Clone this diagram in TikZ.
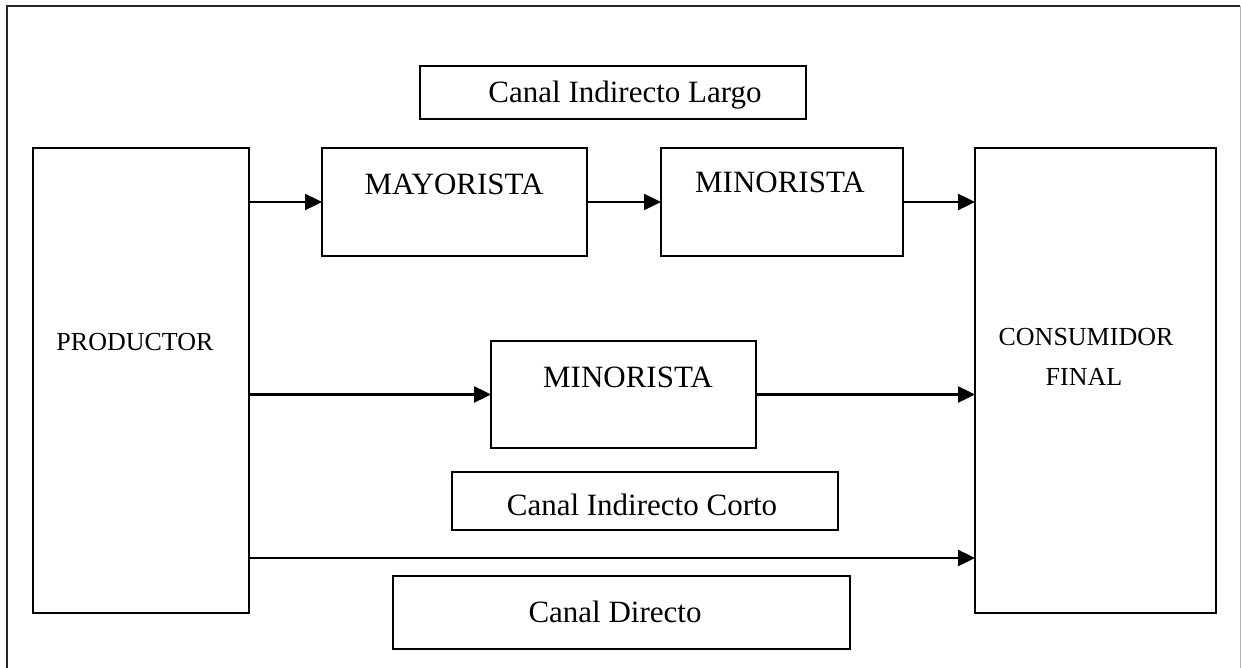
\documentclass[tikz,border=0pt]{standalone}
\usepackage{fontspec}
\setmainfont{Liberation Serif}
\usetikzlibrary{arrows.meta}
\tikzset{
  box/.style={draw=black, line width=2.4pt, fill=none, inner sep=0pt, outer sep=0pt},
  arr/.style={line width=2.4pt, -{Triangle[length=17pt,width=16pt]}},
  lbl/.style={anchor=base, inner sep=0pt, font=\fontsize{31}{37}\selectfont},
  lblsm/.style={anchor=base, inner sep=0pt, font=\fontsize{26}{31}\selectfont}
}
\begin{document}
\begin{tikzpicture}[x=1pt,y=-1pt]
\useasboundingbox (0,0) rectangle (1241,668);
\fill[white] (0,0) rectangle (1241,668);
% outer frame
\draw[line width=2.4pt, black!85] (7,668) -- (7,6) -- (1240,6);
\draw[line width=1pt, black!30] (1240,6) -- (1240,668);
% boxes
\node[box, minimum width=216pt, minimum height=465pt] (prod) at (141,380.5) {};
\node[box, minimum width=241pt, minimum height=465pt] (cons) at (1095.5,380.5) {};
\node[box, minimum width=386pt, minimum height=53pt] (largo) at (613,92.5) {};
\node[box, minimum width=265pt, minimum height=108pt] (may) at (454.5,202) {};
\node[box, minimum width=242pt, minimum height=108pt] (minA) at (782,202) {};
\node[box, minimum width=265pt, minimum height=107pt] (minB) at (623.5,394.5) {};
\node[box, minimum width=386pt, minimum height=58pt] (corto) at (645,501) {};
\node[box, minimum width=457pt, minimum height=73pt] (directo) at (621.5,612.5) {};
% texts
\node[lbl] (tlargo) at (625,103) {Canal Indirecto Largo};
\node[lbl] (tmay) at (454,195) {MAYORISTA};
\node[lbl] (tminA) at (780,193) {MINORISTA};
\node[lbl] (tminB) at (628,387) {MINORISTA};
\node[lbl] (tcorto) at (642,515) {Canal Indirecto Corto};
\node[lbl] (tdirecto) at (615,622) {Canal Directo};
\node[lblsm] (tprod) at (135,350) {PRODUCTOR};
\node[lblsm] (tcons) at (1086,345) {CONSUMIDOR};
\node[lblsm] (tfinal) at (1084,385) {FINAL};
% connectors
\coordinate (dirL) at (249,558);
\coordinate (dirR) at (975,558);
\draw[arr] (prod.east |- may.west) -- (may.west);
\draw[arr] (may.east) -- (minA.west);
\draw[arr] (minA.east) -- (cons.west |- minA.east);
\draw[arr] (prod.east |- minB.west) -- (minB.west);
\draw[arr] (minB.east) -- (cons.west |- minB.east);
\draw[arr] (prod.east |- dirL) -- (cons.west |- dirR);
\end{tikzpicture}
\end{document}
